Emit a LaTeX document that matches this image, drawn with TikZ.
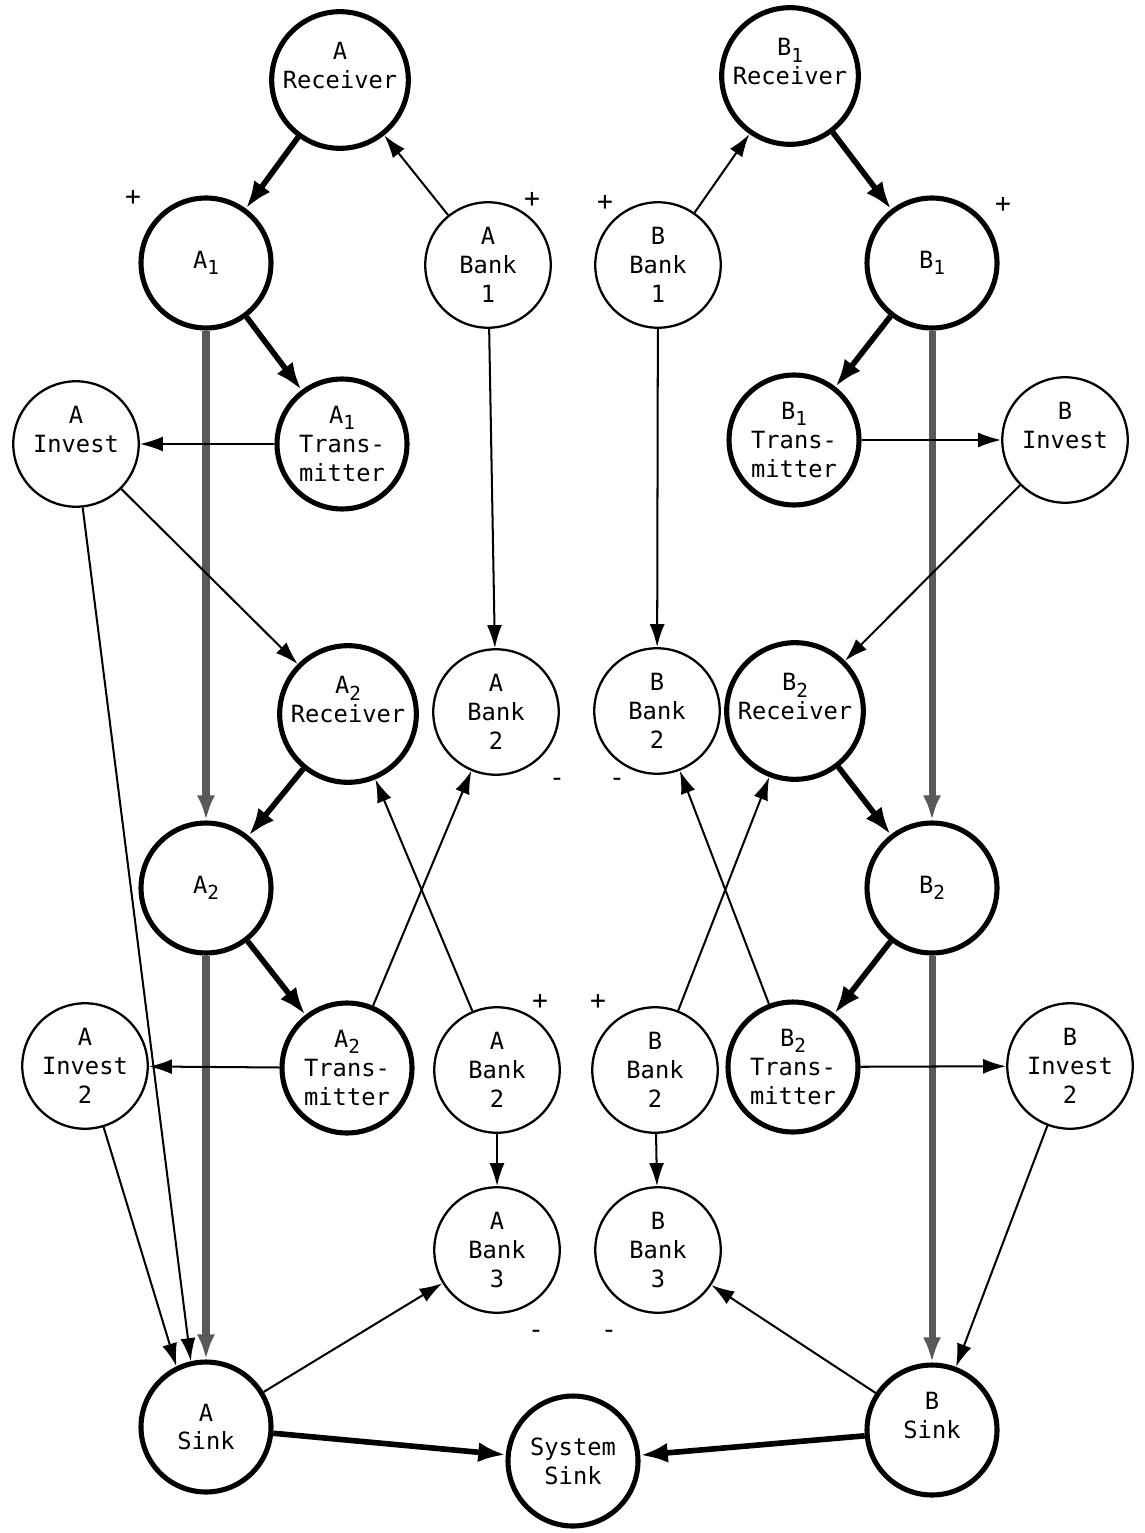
\documentclass[tikz,border=0pt]{standalone}
\usepackage{fontspec}
\newfontfamily\typefont{DejaVu Sans Mono}
\usetikzlibrary{arrows.meta}
\newcommand\idx[1]{\raisebox{-0.5ex}{\fontsize{11}{11}\selectfont #1}}
\tikzset{
  stock/.style={circle, draw, line width=1.3pt, minimum size=2.51cm, inner sep=0pt,
    align=center, font=\typefont\fontsize{13.5}{16.5}\selectfont},
  hub/.style={stock, line width=2.9pt, minimum size=2.6cm},
  flow/.style={-{Latex[length=0.46cm,width=0.3cm]}, line width=1.15pt},
  mainflow/.style={-{Latex[length=0.55cm,width=0.4cm]}, line width=3.2pt},
  trunk/.style={-{Latex[length=0.5cm,width=0.36cm]}, line width=4pt, draw=black!65, fill=black!65},
  sign/.style={font=\typefont\fontsize{15}{15}\selectfont, inner sep=1pt}
}
\begin{document}
\begin{tikzpicture}[x=0.02cm, y=-0.02cm]
\useasboundingbox (0,0) rectangle (1144,1533);

\node[hub]   (ARec)    at (340, 80)   {A\\Receiver\\\mbox{}};
\node[hub]   (B1Rec)   at (790, 76)   {B\idx{1}\\Receiver\\\mbox{}};
\node[hub]   (A1)      at (206, 263)  {A\idx{1}};
\node[stock] (ABank1)  at (488, 265)  {A\\Bank\\1};
\node[stock] (BBank1)  at (658, 265)  {B\\Bank\\1};
\node[hub]   (B1)      at (932, 263)  {B\idx{1}};
\node[stock] (AInv)    at (76, 444)   {A\\Invest\\\mbox{}};
\node[hub]   (A1Tr)    at (342, 444)  {A\idx{1}\\Trans-\\mitter};
\node[hub]   (B1Tr)    at (794, 440)  {B\idx{1}\\Trans-\\mitter};
\node[stock] (BInv)    at (1065, 440) {B\\Invest\\\mbox{}};

\node[hub]   (A2Rec)   at (348, 714)  {A\idx{2}\\Receiver\\\mbox{}};
\node[stock] (ABank2)  at (496, 712)  {A\\Bank\\2};
\node[stock] (BBank2)  at (657, 711)  {B\\Bank\\2};
\node[hub]   (B2Rec)   at (795, 711)  {B\idx{2}\\Receiver\\\mbox{}};
\node[hub]   (A2)      at (206, 888)  {A\idx{2}};
\node[hub]   (B2)      at (932, 888)  {B\idx{2}};

\node[stock] (AInv2)   at (85, 1066)  {A\\Invest\\2};
\node[hub]   (A2Tr)    at (347, 1068) {A\idx{2}\\Trans-\\mitter};
\node[stock] (ABank2b) at (497, 1070) {A\\Bank\\2};
\node[stock] (BBank2b) at (655, 1070) {B\\Bank\\2};
\node[hub]   (B2Tr)    at (793, 1067) {B\idx{2}\\Trans-\\mitter};
\node[stock] (BInv2)   at (1070, 1066) {B\\Invest\\2};
\node[stock] (ABank3)  at (497, 1250) {A\\Bank\\3};
\node[stock] (BBank3)  at (658, 1250) {B\\Bank\\3};

\node[hub]   (ASink)   at (206, 1427) {A\\Sink};
\node[hub]   (SysSink) at (573, 1461) {System\\Sink};
\node[hub]   (BSink)   at (932, 1430) {B\\Sink\\\mbox{}};

\node[sign] (pA1)  at (133, 198)  {+};
\node[sign] (pAB1) at (532, 200)  {+};
\node[sign] (pBB1) at (605, 203)  {+};
\node[sign] (pB1)  at (1003, 205) {+};
\node[sign] (pAB2) at (540, 1002) {+};
\node[sign] (pBB2) at (598, 1002) {+};
\node[sign] (mAB2) at (557, 782)  {-};
\node[sign] (mBB2) at (617, 782)  {-};
\node[sign] (mAB3) at (536, 1334) {-};
\node[sign] (mBB3) at (609, 1334) {-};

%
\draw[mainflow] (ARec) -- (A1);
\draw[flow] (ABank1) -- (ARec);
\draw[flow] (BBank1) -- (B1Rec);
\draw[mainflow] (B1Rec) -- (B1);
\draw[mainflow] (A1) -- (A1Tr);
\draw[mainflow] (B1) -- (B1Tr);
\draw[trunk] (A1) -- (A2);
\draw[trunk] (B1) -- (B2);
\draw[flow] (A1Tr) -- (AInv);
\draw[flow] (B1Tr) -- (BInv);
\draw[flow] (ABank1) -- (ABank2);
\draw[flow] (BBank1) -- (BBank2);
\draw[flow] (AInv) -- (A2Rec);
\draw[flow] (AInv.-84) -- (ASink.103);
\draw[flow] (BInv) -- (B2Rec);
\draw[mainflow] (A2Rec) -- (A2);
\draw[mainflow] (B2Rec) -- (B2);
\draw[mainflow] (A2) -- (A2Tr);
\draw[mainflow] (B2) -- (B2Tr);
\draw[trunk] (A2) -- (ASink);
\draw[trunk] (B2) -- (BSink);
\draw[flow] (A2Tr) -- (ABank2);
\draw[flow] (ABank2b) -- (A2Rec);
\draw[flow] (BBank2b) -- (B2Rec);
\draw[flow] (B2Tr) -- (BBank2);
\draw[flow] (A2Tr) -- (AInv2);
\draw[flow] (B2Tr) -- (BInv2);
\draw[flow] (ABank2b) -- (ABank3);
\draw[flow] (BBank2b) -- (BBank3);
\draw[flow] (AInv2) -- (ASink.116);
\draw[flow] (BInv2) -- (BSink);
\draw[flow] (ASink) -- (ABank3);
\draw[flow] (BSink) -- (BBank3);
\draw[mainflow] (ASink) -- (SysSink);
\draw[mainflow] (BSink) -- (SysSink);
\end{tikzpicture}
\end{document}
